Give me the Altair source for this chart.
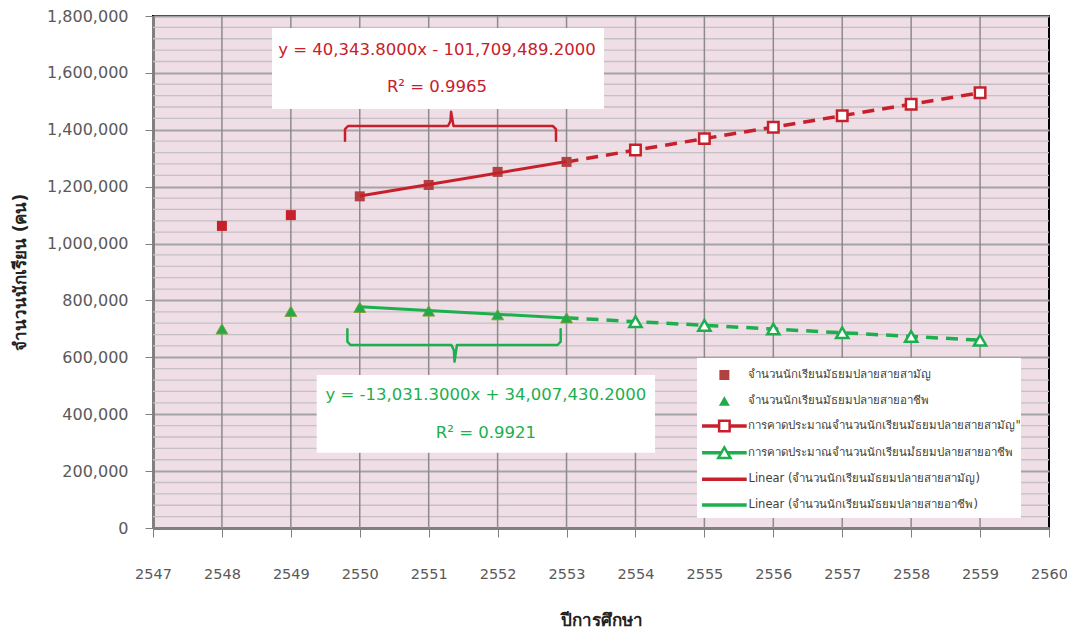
import altair as alt
import pandas as pd

# ---------------- data ----------------
years_actual = [2548, 2549, 2550, 2551, 2552, 2553]
general_actual = [1062000, 1100000, 1166000, 1206000, 1252000, 1287000]
vocational_actual = [700000, 762000, 776000, 763000, 750000, 739000]

years_forecast = [2553, 2554, 2555, 2556, 2557, 2558, 2559]
general_forecast = [1287000, 1328600, 1368900, 1409300, 1449600, 1490000, 1530300]
vocational_forecast = [739000, 725500, 712500, 699400, 686400, 673400, 660300]

trend_years = [2550, 2553]
general_trend = [1167200, 1288200]
vocational_trend = [777600, 738500]

x_ticks = list(range(2547, 2561))
y_ticks = list(range(0, 1800001, 200000))

eq_general = ["y = 40,343.8000x - 101,709,489.2000", "R² = 0.9965"]
eq_vocational = ["y = -13,031.3000x + 34,007,430.2000", "R² = 0.9921"]

legend_labels = [
    "จำนวนนักเรียนมัธยมปลายสายสามัญ",
    "จำนวนนักเรียนมัธยมปลายสายอาชีพ",
    "การคาดประมาณจำนวนนักเรียนมัธยมปลายสายสามัญ\"",
    "การคาดประมาณจำนวนนักเรียนมํธยมปลายสายอาชีพ",
    "Linear (จำนวนนักเรียนมัธยมปลายสายสามัญ)",
    "Linear (จำนวนนักเรียนมัธยมปลายสายอาชีพ)",
]

# annotation geometry (data units)
red_box = {"x": [2548.727], "x2": [2553.544], "y": [1473000], "y2": [1757800]}
green_box = {"x": [2549.375], "x2": [2554.284], "y": [264700], "y2": [537900]}
red_text_x = [2551.12, 2551.12]
red_text_y = [1680500, 1550400]
green_text_x = [2551.83, 2551.83]
green_text_y = [467600, 332900]

red_brace_x = [2549.786, 2549.786, 2549.83, 2551.28, 2551.315, 2551.325, 2551.36, 2552.80, 2552.847, 2552.847]
red_brace_y = [1361600, 1402000, 1413300, 1413300, 1430000, 1463600, 1413300, 1413300, 1402000, 1361600]
green_brace_x = [2549.82, 2549.82, 2549.865, 2551.33, 2551.365, 2551.375, 2551.41, 2552.87, 2552.915, 2552.915]
green_brace_y = [698600, 655000, 643400, 643400, 625000, 584700, 643400, 643400, 655000, 698600]

legend_box = {"x": [2554.893], "x2": [2559.594], "y": [35200], "y2": [597700]}
legend_rows_y = [537900, 446500, 358600, 264700, 171200, 80900]
legend_marker_x = 2555.29
legend_line_x = [2554.966, 2555.614]
legend_text_x = 2555.64

# ---------------- styling ----------------
RED = "#C8202B"
RED_DARK = "#B2423F"
GREEN = "#1DAF4E"
GREEN_FILL = "#22A94A"
TXT = "#595959"
FONT = "DejaVu Sans"

xscale = alt.Scale(domain=[2547, 2560], nice=False, zero=False)
yscale = alt.Scale(domain=[0, 1800000], nice=False, zero=True)

xaxis = alt.Axis(
    values=x_ticks, format="d", title="ปีการศึกษา", grid=False,
    domainColor="#808080", domainWidth=3, tickColor="#808080", tickSize=9,
    labelFont=FONT, labelFontSize=14.5, labelColor=TXT, labelPadding=30,
    labelFlush=False, labelOverlap=False,
    titleFont=FONT, titleFontSize=17, titleFontWeight="bold", titleColor="#222222",
    titleX=448, titleY=92, titleBaseline="middle", titleAlign="center",
)
yaxis = alt.Axis(
    values=y_ticks, format=",d", title="จำนวนนักเรียน (คน)", grid=True,
    gridColor="#A3A3A3", gridWidth=2,
    domainColor="#808080", domainWidth=3, tickColor="#808080", tickSize=8,
    labelFont=FONT, labelFontSize=16, labelColor=TXT, labelPadding=17,
    labelOverlap=False,
    titleFont=FONT, titleFontSize=17, titleFontWeight="bold", titleColor="#222222",
    titleX=-133, titleY=256, titleAngle=270, titleBaseline="middle", titleAlign="center",
)


def X(f="x"):
    return alt.X(f"{f}:Q", scale=xscale, axis=xaxis)


def Y(f="y"):
    return alt.Y(f"{f}:Q", scale=yscale, axis=yaxis)


# ---------------- frames ----------------
df_gen = pd.DataFrame({"x": years_actual, "y": general_actual})
df_voc = pd.DataFrame({"x": years_actual, "y": vocational_actual})
df_gen_f = pd.DataFrame({"x": years_forecast, "y": general_forecast})
df_voc_f = pd.DataFrame({"x": years_forecast, "y": vocational_forecast})
df_gen_t = pd.DataFrame({"x": trend_years, "y": general_trend})
df_voc_t = pd.DataFrame({"x": trend_years, "y": vocational_trend})

layers = []

# minor horizontal gridlines
layers.append(
    alt.Chart(alt.sequence(40000, 1800000, 40000, as_="y"))
    .transform_filter("datum.y % 200000 != 0")
    .mark_rule(color="#C6BFC3", strokeWidth=1.3)
    .encode(y=Y())
)
# vertical gridlines
layers.append(
    alt.Chart(pd.DataFrame({"x": x_ticks[1:-1]}))
    .mark_rule(color="#8E8A8C", strokeWidth=1.5)
    .encode(x=X())
)

# annotation boxes
for box in (red_box, green_box, legend_box):
    layers.append(
        alt.Chart(pd.DataFrame(box)).mark_rect(fill="white")
        .encode(x=X(), x2="x2:Q", y=Y(), y2="y2:Q")
    )

# annotation texts
layers.append(
    alt.Chart(pd.DataFrame({"x": red_text_x, "y": red_text_y, "t": eq_general}))
    .mark_text(font=FONT, fontSize=16.5, color=RED, align="center", baseline="middle")
    .encode(x=X(), y=Y(), text="t:N")
)
layers.append(
    alt.Chart(pd.DataFrame({"x": green_text_x, "y": green_text_y, "t": eq_vocational}))
    .mark_text(font=FONT, fontSize=16.5, color=GREEN, align="center", baseline="middle")
    .encode(x=X(), y=Y(), text="t:N")
)

# braces
for bx, by, col in ((red_brace_x, red_brace_y, RED), (green_brace_x, green_brace_y, GREEN)):
    layers.append(
        alt.Chart(pd.DataFrame({"x": bx, "y": by, "i": list(range(len(bx)))}))
        .mark_line(color=col, strokeWidth=2.5, strokeCap="round", strokeJoin="round")
        .encode(x=X(), y=Y(), order="i:Q")
    )

# forecast dashed lines + hollow markers
layers.append(
    alt.Chart(df_gen_f).mark_line(color=RED, strokeWidth=3.5, strokeDash=[12, 8])
    .encode(x=X(), y=Y())
)
layers.append(
    alt.Chart(df_voc_f).mark_line(color=GREEN, strokeWidth=3.5, strokeDash=[12, 8])
    .encode(x=X(), y=Y())
)
layers.append(
    alt.Chart(df_gen_f).transform_filter("datum.x >= 2554")
    .mark_point(shape="square", size=110, filled=True, fill="white", stroke=RED, strokeWidth=2.5, opacity=1)
    .encode(x=X(), y=Y())
)
layers.append(
    alt.Chart(df_voc_f).transform_filter("datum.x >= 2554")
    .mark_point(shape="triangle-up", size=150, filled=True, fill="white", stroke=GREEN, strokeWidth=2.5, opacity=1)
    .encode(x=X(), y=Y())
)

# actual markers
layers.append(
    alt.Chart(df_gen).mark_point(shape="square", size=100, filled=True, opacity=1)
    .encode(
        x=X(), y=Y(),
        color=alt.condition("datum.x < 2550", alt.value(RED), alt.value(RED_DARK)),
    )
)
layers.append(
    alt.Chart(df_voc).mark_point(shape="triangle-up", size=140, filled=True, opacity=1,
                                 stroke="#7FA23A", strokeWidth=1)
    .encode(
        x=X(), y=Y(),
        color=alt.condition("datum.x < 2550", alt.value(GREEN_FILL), alt.value(GREEN_FILL)),
    )
)

# trend lines
layers.append(alt.Chart(df_gen_t).mark_line(color=RED, strokeWidth=3).encode(x=X(), y=Y()))
layers.append(alt.Chart(df_voc_t).mark_line(color=GREEN, strokeWidth=3).encode(x=X(), y=Y()))

# ---------------- legend (drawn inside plot) ----------------
df_leg = pd.DataFrame({
    "x": [legend_text_x] * 6, "y": legend_rows_y, "t": legend_labels,
    "xm": [legend_marker_x] * 6, "xa": [legend_line_x[0]] * 6, "xb": [legend_line_x[1]] * 6,
    "row": list(range(6)),
})
leg_colors = [RED, GREEN, RED, GREEN, RED, GREEN]
df_leg["c"] = leg_colors

layers.append(
    alt.Chart(df_leg).transform_filter("datum.row >= 2")
    .mark_rule(strokeWidth=3.5)
    .encode(x=X("xa"), x2="xb:Q", y=Y(), color=alt.Color("c:N", scale=None))
)
layers.append(
    alt.Chart(df_leg).transform_filter("datum.row == 0")
    .mark_point(shape="square", size=100, filled=True, opacity=1, color=RED_DARK)
    .encode(x=X("xm"), y=Y())
)
layers.append(
    alt.Chart(df_leg).transform_filter("datum.row == 1")
    .mark_point(shape="triangle-up", size=120, filled=True, opacity=1, color=GREEN_FILL)
    .encode(x=X("xm"), y=Y())
)
layers.append(
    alt.Chart(df_leg).transform_filter("datum.row == 2")
    .mark_point(shape="square", size=110, filled=True, fill="white", stroke=RED, strokeWidth=2.5, opacity=1)
    .encode(x=X("xm"), y=Y())
)
layers.append(
    alt.Chart(df_leg).transform_filter("datum.row == 3")
    .mark_point(shape="triangle-up", size=150, filled=True, fill="white", stroke=GREEN, strokeWidth=2.5, opacity=1)
    .encode(x=X("xm"), y=Y())
)
layers.append(
    alt.Chart(df_leg)
    .mark_text(font=FONT, fontSize=11.5, color="#404040", align="left", baseline="middle")
    .encode(x=X(), y=Y(), text="t:N")
)

chart = (
    alt.layer(*layers)
    .properties(
        width=896, height=512,
        autosize=alt.AutoSizeParams(type="none"),
        padding={"left": 145, "top": 8, "right": 18, "bottom": 100},
        background="white",
    )
    .configure_view(stroke="#000000", strokeWidth=2, fill="#EFDEE6")
)

chart.save("out.html", embed_options={"renderer": "svg", "actions": False})
